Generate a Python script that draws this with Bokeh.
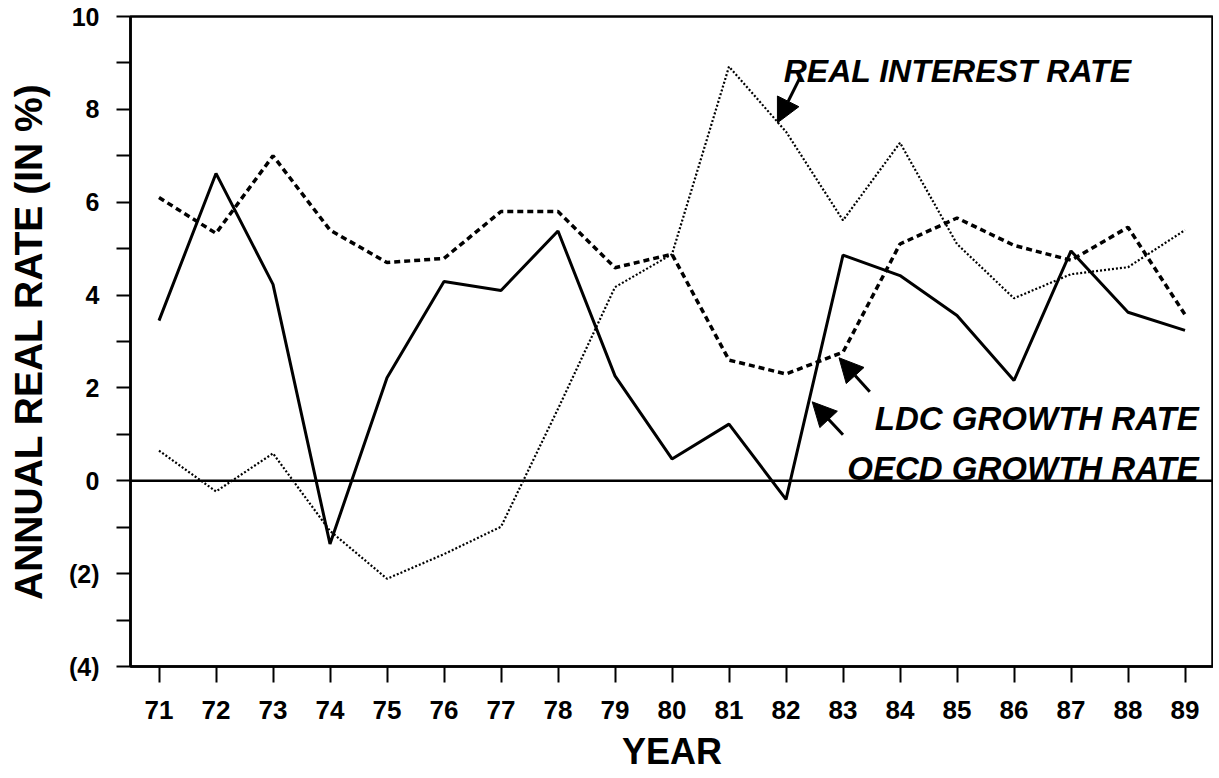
from bokeh.plotting import figure
from bokeh.models import FixedTicker, Span, Arrow, NormalHead, Label
from bokeh.embed import file_html
from bokeh.resources import INLINE

years = list(range(71, 90))
oecd_growth = [3.45, 6.62, 4.23, -1.36, 2.22, 4.29, 4.10, 5.38, 2.26, 0.47,
               1.22, -0.40, 4.86, 4.42, 3.56, 2.16, 4.95, 3.63, 3.24]
ldc_growth = [6.10, 5.33, 7.00, 5.40, 4.70, 4.79, 5.80, 5.80, 4.59, 4.88,
              2.60, 2.30, 2.77, 5.10, 5.66, 5.07, 4.75, 5.46, 3.58]
real_interest = [0.65, -0.23, 0.59, -1.08, -2.11, -1.58, -0.99, 1.55, 4.17, 4.88,
                 8.92, 7.52, 5.61, 7.28, 5.10, 3.93, 4.45, 4.60, 5.40]
y_major = [-4, -2, 0, 2, 4, 6, 8, 10]
y_minor = [-3, -1, 1, 3, 5, 7, 9]
y_overrides = {-4: "(4)", -2: "(2)"}

FONT = "Liberation Sans"

p = figure(width=1213, height=776, x_range=(70.5, 89.5), y_range=(-4, 10),
           output_backend="svg", toolbar_location=None,
           min_border_left=130, min_border_right=0, min_border_top=16, min_border_bottom=110)
p.grid.visible = False
p.outline_line_color = "black"
p.outline_line_width = 2.5
p.background_fill_color = "white"
p.border_fill_color = "white"

# x axis
xa = p.xaxis[0]
xa.ticker = FixedTicker(ticks=years)
xa.axis_line_width = 2.5
xa.axis_line_color = "black"
xa.major_tick_line_width = 2
xa.major_tick_line_color = "black"
xa.major_tick_out = 16
xa.major_tick_in = 0
xa.minor_tick_out = 0
xa.major_label_text_font = FONT
xa.major_label_text_font_style = "bold"
xa.major_label_text_font_size = "26px"
xa.major_label_text_color = "black"
xa.major_label_standoff = 18
xa.axis_label = "YEAR"
xa.axis_label_text_font = FONT
xa.axis_label_text_font_style = "bold"
xa.axis_label_text_font_size = "36px"
xa.axis_label_text_color = "black"
xa.axis_label_standoff = 9

# y axis
ya = p.yaxis[0]
ya.ticker = FixedTicker(ticks=y_major, minor_ticks=y_minor)
ya.major_label_overrides = y_overrides
ya.axis_line_width = 2.5
ya.axis_line_color = "black"
ya.major_tick_line_width = 2
ya.minor_tick_line_width = 2
ya.major_tick_line_color = "black"
ya.minor_tick_line_color = "black"
ya.major_tick_out = 14
ya.major_tick_in = 0
ya.minor_tick_out = 14
ya.minor_tick_in = 0
ya.major_label_text_font = FONT
ya.major_label_text_font_style = "bold"
ya.major_label_text_font_size = "25px"
ya.major_label_text_color = "black"
ya.major_label_standoff = 17
ya.axis_label = "ANNUAL REAL RATE (IN %)"
ya.axis_label_text_font = FONT
ya.axis_label_text_font_style = "bold"
ya.axis_label_text_font_size = "39px"
ya.axis_label_text_color = "black"
ya.axis_label_standoff = 16

p.add_layout(Span(location=0, dimension="width", line_color="black", line_width=2.5))

p.line(years, oecd_growth, line_color="black", line_width=3)
p.line(years, ldc_growth, line_color="black", line_width=3.5, line_dash="6 4")
p.line(years, real_interest, line_color="black", line_width=2.2, line_dash="2 2")

labels = [
    (81.96, 8.83, "REAL INTEREST RATE", "left", "32px"),
    (89.24, 1.35, "LDC GROWTH RATE", "right", "33px"),
    (89.24, 0.27, "OECD GROWTH RATE", "right", "33px"),
]
for lx, ly, txt, align, size in labels:
    p.add_layout(Label(x=lx, y=ly, text=txt, text_font=FONT, text_color="black",
                       text_font_style="bold italic", text_font_size=size,
                       text_align=align, text_baseline="alphabetic"))

arrows = [
    (82.24, 8.67, 81.85, 7.71),
    (83.47, 1.92, 82.93, 2.65),
    (83.00, 0.99, 82.46, 1.70),
]
for xs, ys, xe, ye in arrows:
    p.add_layout(Arrow(x_start=xs, y_start=ys, x_end=xe, y_end=ye, line_width=3,
                       line_color="black",
                       end=NormalHead(size=24, fill_color="black", line_color="black", line_width=1)))

open("out.html", "w").write(file_html(p, INLINE))
